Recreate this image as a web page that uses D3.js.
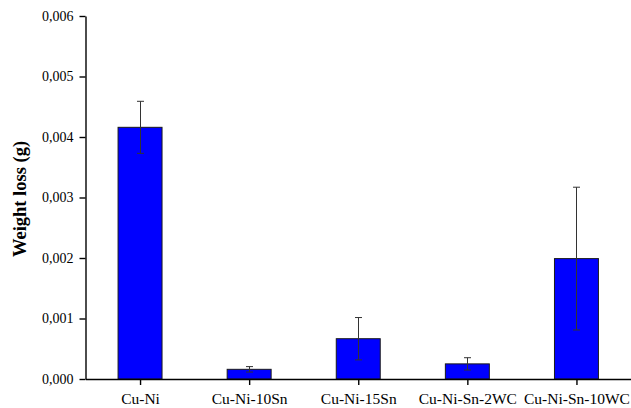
<!DOCTYPE html>
<html>
<head>
<meta charset="utf-8">
<script src="https://cdn.jsdelivr.net/npm/d3@7"></script>
<style>
  html, body { margin: 0; padding: 0; background: #fff; }
  svg { display: block; }
  svg text { font-family: "Liberation Serif", "Times New Roman", Times, "DejaVu Serif", serif !important; fill: #000; }
</style>
</head>
<body>
<svg id="chart" width="631" height="408"></svg>
<script>
const categories = ["Cu-Ni", "Cu-Ni-10Sn", "Cu-Ni-15Sn", "Cu-Ni-Sn-2WC", "Cu-Ni-Sn-10WC"];
const values = [0.00416, 0.00016, 0.000666, 0.000250, 0.00199];
const errors = [0.00043, 0.000045, 0.00035, 0.000102, 0.00118];
const yTicks = [0, 0.001, 0.002, 0.003, 0.004, 0.005, 0.006];
const yLabel = "Weight loss (g)";

const svg = d3.select("#chart");
const mLeft = 85.5, mRight = 631, mTop = 16, mBottom = 379;

const x = d3.scalePoint().domain(categories).range([mLeft, mRight]).padding(0.5);
const step = x.step();
const barW = step * 0.403;
const y = d3.scaleLinear().domain([0, 0.006]).range([mBottom, mTop]);
const fmt = d => d3.format(".3f")(d).replace(".", ",");

// bars
svg.append("g").selectAll("rect").data(categories).join("rect")
  .attr("x", d => x(d) - barW / 2)
  .attr("y", (d, i) => y(values[i]))
  .attr("width", barW)
  .attr("height", (d, i) => y(0) - y(values[i]))
  .attr("fill", "#0000ff")
  .attr("stroke", "#1a1a1a")
  .attr("stroke-width", 1);

// error bars
const eg = svg.append("g").attr("stroke", "#333").attr("stroke-width", 1).attr("fill", "none");
categories.forEach((c, i) => {
  const cx = Math.round(x(c)) + 0.5;
  const y1 = y(values[i] + errors[i]), y2 = y(values[i] - errors[i]);
  eg.append("line").attr("x1", cx).attr("x2", cx).attr("y1", y1).attr("y2", y2);
  eg.append("line").attr("x1", cx - 3.5).attr("x2", cx + 3.5).attr("y1", y1).attr("y2", y1);
  eg.append("line").attr("x1", cx - 3.5).attr("x2", cx + 3.5).attr("y1", y2).attr("y2", y2);
});

// y axis
const yAxis = svg.append("g").attr("transform", `translate(${mLeft},0)`)
  .call(d3.axisLeft(y).tickValues(yTicks).tickFormat(fmt).tickSize(6).tickPadding(6).tickSizeOuter(0));
yAxis.attr("font-family", null);
yAxis.select(".domain").attr("stroke", "#000").attr("stroke-width", 1.4);
yAxis.selectAll(".tick line").attr("stroke", "#000").attr("stroke-width", 1.4);
yAxis.selectAll(".tick text").style("font-size", "14px").attr("fill", "#000");

// x axis
const xAxis = svg.append("g").attr("transform", `translate(0,${mBottom})`)
  .call(d3.axisBottom(x).tickSize(6).tickPadding(8).tickSizeOuter(0));
xAxis.attr("font-family", null);
xAxis.select(".domain").attr("stroke", "#000").attr("stroke-width", 1.4);
xAxis.selectAll(".tick line").attr("stroke", "#000").attr("stroke-width", 1.4);
xAxis.selectAll(".tick text").style("font-size", "15.5px").attr("fill", "#000");

// y label
svg.append("text")
  .attr("transform", "translate(25.5,199) rotate(-90)")
  .attr("text-anchor", "middle")
  .style("font-size", "18.5px")
  .style("font-weight", "bold")
  .text(yLabel);
</script>
</body>
</html>
